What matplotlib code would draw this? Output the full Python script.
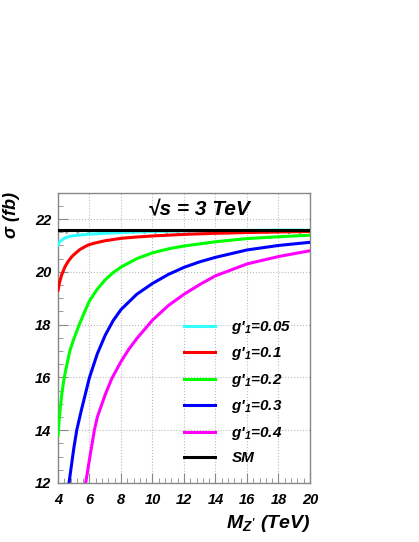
import matplotlib
matplotlib.use("Agg")
import matplotlib.pyplot as plt
import numpy as np
from matplotlib.ticker import MultipleLocator

# Z' mass (TeV) and cross sections (fb)
m_cyan = [4, 4.1, 4.23, 4.4, 4.65, 5, 5.5, 6, 7, 8, 9, 10, 12, 14, 16, 18, 20]
s_cyan = [21.02, 21.12, 21.2, 21.27, 21.33, 21.37, 21.4, 21.43, 21.46, 21.49, 21.51, 21.53,
          21.55, 21.56, 21.57, 21.58, 21.58]

m_red = [4, 4.1, 4.23, 4.44, 4.65, 4.87, 5.1, 5.4, 5.92, 6.4, 7, 8, 9, 10, 12, 14, 16, 18, 20]
s_red = [19.3, 19.6, 19.88, 20.19, 20.4, 20.57, 20.7, 20.85, 21.02, 21.1, 21.18, 21.27,
         21.32, 21.36, 21.42, 21.46, 21.49, 21.51, 21.53]

m_green = [4, 4.06, 4.13, 4.25, 4.37, 4.5, 4.75, 5, 5.35, 5.7, 6, 6.5, 7, 7.5, 8, 9, 10,
           11, 12, 14, 16, 18, 20]
s_green = [13.8, 14.3, 14.75, 15.4, 15.9, 16.3, 17.0, 17.45, 18.0, 18.5, 18.9, 19.35,
           19.7, 19.97, 20.18, 20.5, 20.72, 20.87, 20.98, 21.14, 21.26, 21.33, 21.39]

m_blue = [4.5, 4.7, 5, 5.19, 5.5, 6, 6.5, 7, 7.5, 8, 9, 10, 11, 12, 13, 14, 16, 18, 20]
s_blue = [11.2, 12.0, 13.3, 14.0, 14.8, 16.0, 16.9, 17.6, 18.15, 18.57, 19.15, 19.56,
          19.9, 20.17, 20.38, 20.55, 20.83, 21.0, 21.12]

m_mag = [5.5, 5.76, 6, 6.31, 6.5, 7, 7.41, 8, 8.5, 9, 10, 11, 12, 13, 14, 16, 18, 20]
s_mag = [11.0, 12.0, 12.9, 14.0, 14.5, 15.35, 15.95, 16.6, 17.07, 17.47, 18.17, 18.72,
         19.15, 19.52, 19.85, 20.3, 20.58, 20.8]

m_sm = [4, 20]
s_sm = [21.59, 21.59]
band_lo = [21.42, 21.42]

labels = ["g$'_{1}$=0.05", "g$'_{1}$=0.1", "g$'_{1}$=0.2", "g$'_{1}$=0.3", "g$'_{1}$=0.4", "SM"]
colors = ["#33ffff", "#ff0000", "#00ff00", "#0000ff", "#ff00ff", "#000000"]

plt.rcParams["font.family"] = ["Liberation Sans", "DejaVu Sans"]
plt.rcParams["font.weight"] = "bold"
plt.rcParams["font.style"] = "italic"
plt.rcParams["mathtext.fontset"] = "custom"
plt.rcParams["mathtext.rm"] = "Liberation Sans:bold:italic"
plt.rcParams["mathtext.it"] = "Liberation Sans:bold:italic"
plt.rcParams["mathtext.bf"] = "Liberation Sans:bold:italic"
plt.rcParams["hatch.linewidth"] = 0.6

fig = plt.figure(figsize=(4.19, 5.42), dpi=100)
ax = fig.add_axes([0.1384, 0.1089, 0.6014, 0.5356])

ax.fill_between(m_sm, band_lo, s_sm, facecolor="none", edgecolor="#999999",
                hatch="xxx", lw=0, zorder=2)

series = [(m_cyan, s_cyan), (m_red, s_red), (m_green, s_green),
          (m_blue, s_blue), (m_mag, s_mag), (m_sm, s_sm)]
for (m, s), c, lab in zip(series, colors, labels):
    ax.plot(m, s, color=c, lw=2.2, label=lab, zorder=3, solid_joinstyle="round")

ax.set_xlim(4, 20)
ax.set_ylim(12, 23)
ax.xaxis.set_major_locator(MultipleLocator(2))
ax.xaxis.set_minor_locator(MultipleLocator(0.4))
ax.yaxis.set_major_locator(MultipleLocator(2))
ax.yaxis.set_minor_locator(MultipleLocator(0.5))
ax.tick_params(which="both", direction="in", colors="#888888", labelcolor="black",
               labelsize=10.5)
ax.tick_params(which="major", length=7)
ax.tick_params(which="minor", length=3.5)
ax.tick_params(axis="x", pad=7)
ax.tick_params(axis="y", pad=5)
for lab in ax.get_xticklabels() + ax.get_yticklabels():
    lab.set_fontweight("bold")
    lab.set_fontstyle("italic")
ax.grid(True, which="major", color="#bbbbbb", ls=":", lw=0.8)
for sp in ax.spines.values():
    sp.set_color("#888888")
    sp.set_linewidth(1)

ax.text(0.56, 0.94, "\u221as = 3 TeV", transform=ax.transAxes, ha="center",
        va="center", fontsize=15, fontweight="bold", fontstyle="italic")

ax.text(1.0, -0.105, "M$_{Z'}$ (TeV)", transform=ax.transAxes, ha="right",
        va="top", fontsize=14)
fig.text(0.008, 0.645, "\u03c3 (fb)", rotation=90, ha="left", va="top", fontsize=13)

leg = ax.legend(loc="upper left", bbox_to_anchor=(0.5, 0.565), frameon=False,
                fontsize=11, handlelength=2.0, handletextpad=1.1,
                labelspacing=0.62, borderpad=0, borderaxespad=0)
for t in leg.get_texts():
    t.set_fontweight("bold")
    t.set_fontstyle("italic")

fig.savefig("out.png", dpi=100)
